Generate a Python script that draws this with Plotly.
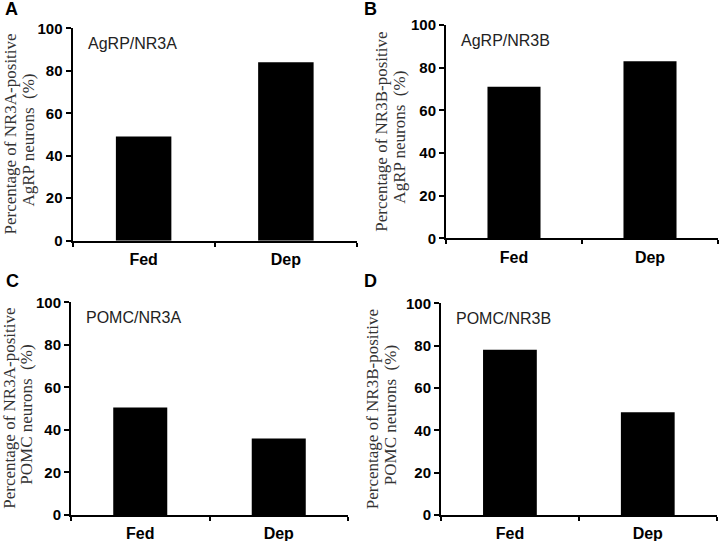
import plotly.graph_objects as go

categories = ["Fed", "Dep"]
agrp_nr3a = [49, 84]
agrp_nr3b = [71, 83]
pomc_nr3a = [50.5, 36]
pomc_nr3b = [78, 48.5]
y_ticks = [0, 20, 40, 60, 80, 100]

panels = [
    dict(letter="A", label="AgRP/NR3A", values=agrp_nr3a,
         line1="Percentage of NR3A-positive", line2="AgRP neurons  (%)"),
    dict(letter="B", label="AgRP/NR3B", values=agrp_nr3b,
         line1="Percentage of NR3B-positive", line2="AgRP neurons  (%)"),
    dict(letter="C", label="POMC/NR3A", values=pomc_nr3a,
         line1="Percentage of NR3A-positive", line2="POMC neurons  (%)"),
    dict(letter="D", label="POMC/NR3B", values=pomc_nr3b,
         line1="Percentage of NR3B-positive", line2="POMC neurons  (%)"),
]

W, H = 720, 541
# pixel boxes: (x0, x1, ytop, ybottom)
boxes = [
    (72.5, 357, 28.3, 240.7),
    (446, 718, 25, 238.3),
    (71, 348, 302.3, 515),
    (441, 716.7, 303.3, 515),
]
letter_pos = [(11, 9), (371, 9), (12, 281), (371, 281)]
title_x = [(10, 28), (382, 400), (10, 27), (372, 390)]

fig = go.Figure()
annotations = []
for i, (p, b) in enumerate(zip(panels, boxes)):
    n = i + 1
    xa = "x" if n == 1 else f"x{n}"
    ya = "y" if n == 1 else f"y{n}"
    fig.add_trace(go.Bar(x=categories, y=p["values"], marker=dict(color="black", line=dict(width=0)),
                         width=0.39, xaxis=xa, yaxis=ya, showlegend=False))
    x0, x1, yt, yb = b
    xdom = [x0 / W, x1 / W]
    ydom = [(H - yb) / H, (H - yt) / H]
    xkey = "xaxis" if n == 1 else f"xaxis{n}"
    ykey = "yaxis" if n == 1 else f"yaxis{n}"
    fig.update_layout(**{
        xkey: dict(domain=xdom, anchor=ya, type="category", range=[-0.5, 1.5],
                   showline=True, linecolor="black", linewidth=2, showgrid=False,
                   ticks="outside", tickson="boundaries", ticklen=4, tickwidth=2, tickcolor="black",
                   ticklabelstandoff=3,
                   tickfont=dict(family="Liberation Sans", size=16, color="black", weight="bold"),
                   zeroline=False, automargin=False),
        ykey: dict(domain=ydom, anchor=xa, range=[0, 100], tickvals=y_ticks,
                   showline=True, linecolor="black", linewidth=2, showgrid=False,
                   ticks="outside", ticklen=5, tickwidth=2, tickcolor="black",
                   tickfont=dict(family="Liberation Sans", size=15, color="black", weight="bold"),
                   zeroline=False, automargin=False),
    })
    # panel letter
    lx, ly = letter_pos[i]
    annotations.append(dict(text=p["letter"], x=lx / W, y=1 - ly / H, xref="paper", yref="paper",
                            xanchor="center", yanchor="middle", showarrow=False,
                            font=dict(family="Liberation Sans", size=18, color="black", weight="bold")))
    # inner label
    annotations.append(dict(text=p["label"], x=(x0 + 13) / W, y=1 - (yt + 15) / H, xref="paper", yref="paper",
                            xanchor="left", yanchor="middle", showarrow=False,
                            font=dict(family="Liberation Sans", size=16, color="#222")))
    # y titles
    ymid = 1 - ((yt + yb) / 2) / H
    t1, t2 = title_x[i]
    annotations.append(dict(text=p["line1"], x=t1 / W, y=ymid, xref="paper", yref="paper",
                            xanchor="center", yanchor="middle", showarrow=False, textangle=-90,
                            font=dict(family="Liberation Serif", size=17, color="#333")))
    annotations.append(dict(text=p["line2"], x=t2 / W, y=ymid - 6 / H, xref="paper", yref="paper",
                            xanchor="center", yanchor="middle", showarrow=False, textangle=-90,
                            font=dict(family="Liberation Serif", size=17, color="#333")))

fig.update_layout(width=W, height=H, margin=dict(l=0, r=0, t=0, b=0, autoexpand=False),
                  paper_bgcolor="white", plot_bgcolor="white",
                  annotations=annotations, bargap=0.6)
fig.write_html("out.html", config={"displayModeBar": False},
               post_script="document.body.style.margin='0';document.body.style.overflow='hidden';")
